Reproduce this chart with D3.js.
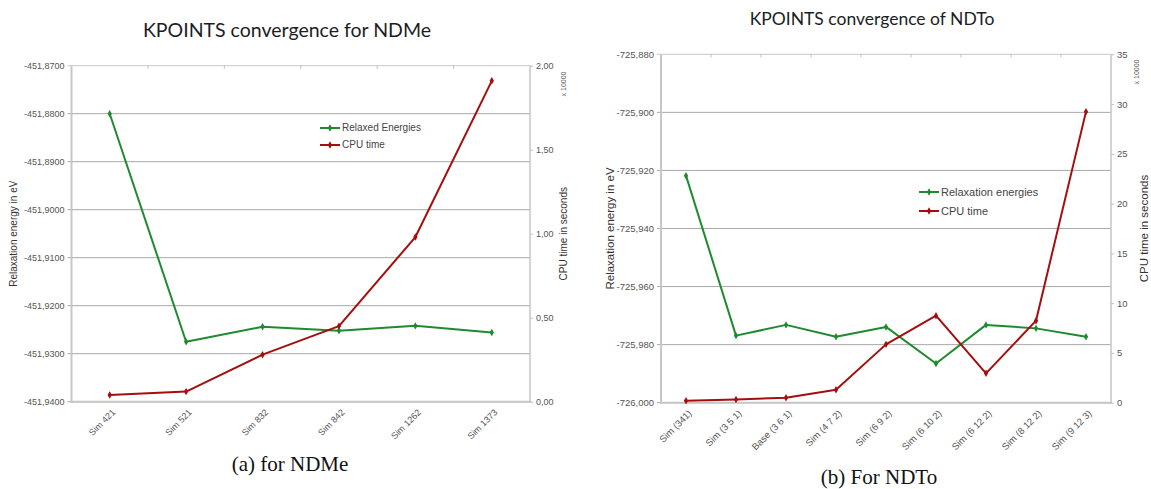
<!DOCTYPE html>
<html>
<head>
<meta charset="utf-8">
<script src="https://cdn.jsdelivr.net/npm/d3@7"></script>
<style>
  html, body { margin: 0; padding: 0; background: #fff; }
  svg { display: block; }
  text { font-family: "Liberation Sans", Arial, sans-serif; }
</style>
</head>
<body>
<svg id="fig" width="1151" height="489"></svg>
<script>
// ---- NDMe k-point runs ----
const ndmeCategories = ["Sim 421", "Sim 521", "Sim 832", "Sim 842", "Sim 1262", "Sim 1373"];
const ndmeEnergy = [-451.8800, -451.9275, -451.9244, -451.9252, -451.9242, -451.9256];
const ndmeCpu = [0.04, 0.06, 0.28, 0.45, 0.98, 1.91];           // in units of 10000 s
const ndmeEnergyTicks = [-451.87, -451.88, -451.89, -451.90, -451.91, -451.92, -451.93, -451.94];
const ndmeCpuTicks = [0, 0.5, 1.0, 1.5, 2.0];

// ---- NDTo k-point runs ----
const ndtoCategories = ["Sim (341)", "Sim (3 5 1)", "Base (3 6 1)", "Sim (4 7 2)", "Sim (6 9 2)",
                        "Sim (6 10 2)", "Sim (6 12 2)", "Sim (8 12 2)", "Sim (9 12 3)"];
const ndtoEnergy = [-725.9218, -725.9769, -725.9732, -725.9773, -725.9739, -725.9865, -725.9732, -725.9744, -725.9773];
const ndtoCpu = [0.20, 0.33, 0.50, 1.31, 5.86, 8.74, 2.95, 8.24, 29.24];  // in units of 10000 s
const ndtoEnergyTicks = [-725.88, -725.90, -725.92, -725.94, -725.96, -725.98, -726.00];
const ndtoCpuTicks = [0, 5, 10, 15, 20, 25, 30, 35];

const GREEN = "#1f8a2e";
const RED = "#a50e0e";
const svg = d3.select("#fig");

const commaFmt = digits => v => d3.format("." + digits + "f")(v).replace("\u2212", "-").replace(".", ",");

function drawPanel(p) {
  const g = svg.append("g");
  const x = d3.scaleBand().domain(p.categories).range([p.left, p.right]);
  const yE = d3.scaleLinear().domain([p.energyTicks[p.energyTicks.length - 1], p.energyTicks[0]]).range([p.bottom, p.top]);
  const yC = d3.scaleLinear().domain([p.cpuTicks[0], p.cpuTicks[p.cpuTicks.length - 1]]).range([p.bottom, p.top]);

  // horizontal gridlines from the energy axis
  g.append("g").selectAll("line").data(p.energyTicks).join("line")
    .attr("x1", p.left - 4).attr("x2", p.right)
    .attr("y1", d => yE(d)).attr("y2", d => yE(d))
    .attr("stroke", (d, i) => i === 0 ? "#c9c9c9" : "#a8a8a8").attr("stroke-width", 1);

  // left energy axis
  const axL = g.append("g").attr("transform", `translate(${p.left},0)`)
    .call(d3.axisLeft(yE).tickValues(p.energyTicks).tickSize(0).tickPadding(p.lPad).tickFormat(commaFmt(p.eDigits)));
  axL.select(".domain").remove();
  axL.selectAll("text").attr("fill", "#555").style("font-size", p.tickFont + "px");

  // right CPU axis
  const axR = g.append("g").attr("transform", `translate(${p.right},0)`)
    .call(d3.axisRight(yC).tickValues(p.cpuTicks).tickSize(3).tickPadding(3).tickFormat(commaFmt(p.cDigits)));
  axR.select(".domain").remove();
  axR.selectAll("line").attr("stroke", "#bdbdbd");
  axR.selectAll("text").attr("fill", "#555").style("font-size", p.tickFont + "px");

  // frame lines
  g.append("line").attr("x1", p.left).attr("x2", p.left).attr("y1", p.top).attr("y2", p.bottom + 1)
    .attr("stroke", "#c6c6c6").attr("stroke-width", 2);
  g.append("line").attr("x1", p.right).attr("x2", p.right).attr("y1", p.top).attr("y2", p.bottom + 1)
    .attr("stroke", "#c6c6c6").attr("stroke-width", 1.5);
  g.append("line").attr("x1", p.left - 1).attr("x2", p.right + 1).attr("y1", p.bottom).attr("y2", p.bottom)
    .attr("stroke", "#c6c6c6").attr("stroke-width", 2);

  // category dividers along the top edge
  g.append("g").selectAll("line").data(p.categories.slice(1)).join("line")
    .attr("x1", d => x(d)).attr("x2", d => x(d))
    .attr("y1", p.top).attr("y2", p.top + 3)
    .attr("stroke", "#bdbdbd");

  // category labels
  g.append("g").selectAll("text").data(p.categories).join("text")
    .attr("transform", d => `translate(${x(d) + x.bandwidth() / 2 + 4},${p.bottom + 9}) rotate(-45)`)
    .attr("text-anchor", "end").attr("dy", "0.35em")
    .attr("fill", "#555").style("font-size", p.tickFont + "px")
    .text(d => d);

  const cx = d => x(d) + x.bandwidth() / 2;
  const series = [
    { vals: p.energy, y: yE, color: GREEN },
    { vals: p.cpu, y: yC, color: RED }
  ];
  series.forEach(s => {
    const pts = p.categories.map((c, i) => [cx(c), s.y(s.vals[i])]);
    g.append("path").datum(pts)
      .attr("d", d3.line())
      .attr("fill", "none").attr("stroke", s.color).attr("stroke-width", 2).attr("stroke-linejoin", "round");
    g.append("g").selectAll("path").data(pts).join("path")
      .attr("transform", d => `translate(${d[0]},${d[1]})`)
      .attr("d", d3.symbol(d3.symbolDiamond, 16))
      .attr("fill", s.color);
  });

  // axis titles
  const midY = (p.top + p.bottom) / 2;
  g.append("text").attr("transform", `translate(${p.lTitleX},${midY}) rotate(-90)`)
    .attr("text-anchor", "middle").attr("fill", "#333").style("font-size", p.axisFont + "px")
    .text("Relaxation energy in eV");
  g.append("text").attr("transform", `translate(${p.rTitleX},${midY}) rotate(-90)`)
    .attr("text-anchor", "middle").attr("fill", "#333").style("font-size", p.axisFont + "px")
    .text("CPU time in seconds");
  g.append("text").attr("transform", `translate(${p.multX},${p.multY}) rotate(-90)`)
    .attr("text-anchor", "middle").attr("fill", "#555").style("font-size", "7px")
    .text("x 10000");

  // title
  g.append("text").attr("x", p.titleX).attr("y", p.titleY).attr("text-anchor", "middle")
    .attr("fill", "#1d1d25").style("font-family", "Lato, 'Noto Sans', sans-serif")
    .style("font-size", p.titleFont + "px").text(p.title);

  // legend
  const leg = g.append("g").attr("transform", `translate(${p.legX},${p.legY})`);
  [{ name: p.legendNames[0], color: GREEN }, { name: p.legendNames[1], color: RED }].forEach((e, i) => {
    const row = leg.append("g").attr("transform", `translate(0,${i * p.legGap})`);
    row.append("line").attr("x1", 0).attr("x2", 20).attr("stroke", e.color).attr("stroke-width", 2);
    row.append("path").attr("transform", "translate(10,0)").attr("d", d3.symbol(d3.symbolDiamond, 16)).attr("fill", e.color);
    row.append("text").attr("x", 22).attr("dy", "0.32em").attr("fill", "#444")
      .style("font-size", p.legFont + "px").text(e.name);
  });

  // caption
  svg.append("text").attr("x", p.capX).attr("y", p.capY).attr("text-anchor", "middle")
    .style("font-family", "'Liberation Serif', 'DejaVu Serif', serif").style("font-size", "21px")
    .attr("fill", "#111").text(p.caption);
}

drawPanel({
  categories: ndmeCategories, energy: ndmeEnergy, cpu: ndmeCpu,
  energyTicks: ndmeEnergyTicks, cpuTicks: ndmeCpuTicks, eDigits: 4, cDigits: 2,
  left: 71.5, right: 530, top: 65.7, bottom: 401.7,
  lPad: 7, tickFont: 9, axisFont: 10, lTitleX: 17, rTitleX: 567, multX: 566, multY: 84,
  title: "KPOINTS convergence for NDMe", titleX: 287, titleY: 37, titleFont: 19.5,
  legendNames: ["Relaxed Energies", "CPU time"], legX: 320, legY: 128, legGap: 17, legFont: 10,
  caption: "(a) for NDMe", capX: 290, capY: 471
});

drawPanel({
  categories: ndtoCategories, energy: ndtoEnergy, cpu: ndtoCpu,
  energyTicks: ndtoEnergyTicks, cpuTicks: ndtoCpuTicks, eDigits: 3, cDigits: 0,
  left: 661, right: 1111, top: 54.3, bottom: 402.7,
  lPad: 7, tickFont: 9.5, axisFont: 11.5, lTitleX: 614, rTitleX: 1148, multX: 1139, multY: 72,
  title: "KPOINTS convergence of NDTo", titleX: 872, titleY: 25, titleFont: 17.5,
  legendNames: ["Relaxation energies", "CPU time"], legX: 919, legY: 192, legGap: 19, legFont: 11,
  caption: "(b) For NDTo", capX: 879, capY: 484
});
</script>
</body>
</html>
